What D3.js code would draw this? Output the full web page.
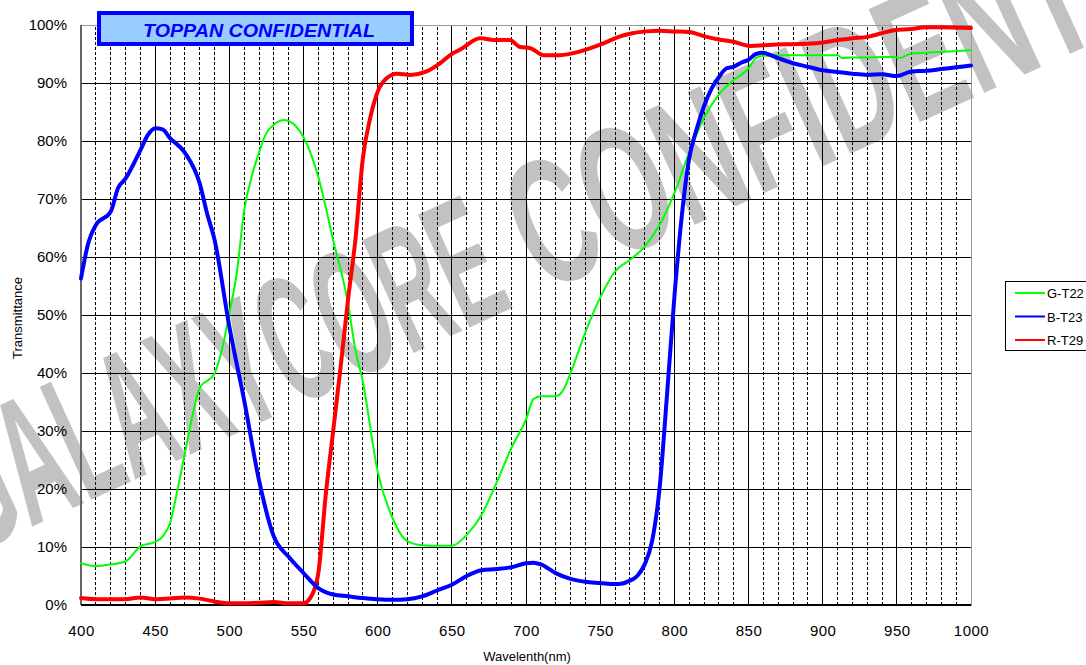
<!DOCTYPE html>
<html>
<head>
<meta charset="utf-8">
<script src="https://cdn.jsdelivr.net/npm/d3@7/dist/d3.min.js"></script>
<style>
  html, body { margin: 0; padding: 0; background: #fff; }
  svg { display: block; }
  text { font-family: "Liberation Sans", Arial, sans-serif; }
</style>
</head>
<body>
<svg id="chart" width="1086" height="665"></svg>
<script>
// ---------- DATA ----------
const xTicks = [400, 450, 500, 550, 600, 650, 700, 750, 800, 850, 900, 950, 1000];
const yTicks = [0, 10, 20, 30, 40, 50, 60, 70, 80, 90, 100];
const seriesNames = ["G-T22", "B-T23", "R-T29"];
const seriesColors = ["#00ff00", "#0000ff", "#ff0000"];

const greenWl = [400,410,420,430,440,450,455,460,465,470,475,480,490,495,500,505,510,515,520,525,530,537,545,550,560,570,580,585,590,600,610,620,630,640,650,660,670,680,690,700,705,710,720,725,730,740,750,760,770,780,790,800,810,820,830,840,850,855,860,870,880,890,900,910,913,920,930,940,948,952,960,970,980,990,1000];
const greenT  = [7.2,6.7,7.0,7.5,10.1,10.9,11.8,14.1,19.8,26.1,32.5,37.4,39.9,44,50.3,57.2,68,73.8,78,81.4,82.8,83.6,82.5,80.7,73.8,62.9,52,44,38.5,23,15,11,10.3,10.2,10.2,12.1,15.5,21,27,32,35.5,36,36,37,40,47,53,57.5,59.5,61.8,65.5,71,78,84,88,90.5,92.5,94.3,94.7,94.8,94.8,94.8,94.8,94.8,94.3,94.4,94.4,94.5,94.5,94.3,95.1,95.2,95.4,95.5,95.7];

const blueWl = [400,405,410,420,425,430,440,445,450,455,460,470,480,485,490,500,510,520,530,540,550,560,570,580,590,600,610,620,630,640,650,660,670,680,690,700,705,710,720,730,740,750,760,765,770,775,780,785,790,795,800,805,810,815,820,825,830,835,840,845,850,855,860,865,870,880,890,900,910,920,930,940,950,960,970,980,990,1000];
const blueT  = [56.3,62.5,65.5,67.8,71.9,73.5,78.4,81,82.2,82,80.5,78,72.7,67.5,63,48,35.3,21.5,11.8,8.3,5.5,2.9,1.8,1.5,1.2,1.0,0.9,1.0,1.5,2.5,3.5,5,6,6.2,6.5,7.2,7.3,7,5.5,4.5,4,3.8,3.6,3.7,4.2,5,7,11,20,36,53,67,77,82,86,89,91,92.5,92.8,93.5,94,95,95.2,94.8,94.3,93.4,92.8,92.2,91.9,91.6,91.4,91.5,91.2,92,92.1,92.4,92.7,93];

const redWl = [400,410,420,430,440,450,460,470,480,490,500,510,520,530,540,550,555,560,565,570,575,580,585,590,595,600,606,613,622,633,642,650,656,669,680,689,696,703,712,723,736,750,763,770,781,790,800,810,821,830,840,851,866,880,892,900,910,920,931,940,948,960,969,980,1000];
const redT  = [1.2,1.0,1.0,1.0,1.3,1.0,1.1,1.3,1.1,0.6,0.3,0.3,0.4,0.5,0.3,0.3,1.4,5.5,19,30,41,52.6,63,77,84,88.5,90.8,91.6,91.4,92,93.4,95,95.8,97.7,97.4,97.4,96.2,96,94.8,94.8,95.4,96.6,98,98.5,98.9,99,98.9,98.8,98,97.5,97.1,96.4,96.6,96.7,96.8,97,97.4,97.7,98,98.6,99.1,99.3,99.6,99.6,99.5];

const titleText = "TOPPAN CONFIDENTIAL";
const watermarkWords = ["GALAXYCORE", "CONFIDENTIAL"];
const xLabel = "Wavelenth(nm)";
const yLabel = "Transmittance";

// ---------- CHART ----------
const svg = d3.select("#chart");
const x = d3.scaleLinear().domain([400, 1000]).range([81, 971]);
const y = d3.scaleLinear().domain([0, 100]).range([605, 25]);

// watermark (behind everything)
const wm = svg.append("g").attr("transform", "translate(-30,555) rotate(-24.5)");
[[0, 600], [630, 790]].forEach((p, i) => {
  wm.append("text")
    .attr("x", p[0]).attr("y", 0)
    .attr("textLength", p[1])
    .attr("lengthAdjust", "spacingAndGlyphs")
    .style("font-family", "'Liberation Sans Narrow','Liberation Sans',Arial,sans-serif")
    .style("font-weight", "bold")
    .style("font-size", "180px")
    .attr("fill", "#c2c2c2")
    .text(watermarkWords[i]);
});

// grid
const g = svg.append("g");
d3.range(410, 1000, 10).forEach(v => {
  g.append("line")
    .attr("x1", x(v)).attr("x2", x(v))
    .attr("y1", y(0)).attr("y2", y(100))
    .attr("stroke", "#000")
    .attr("stroke-width", 1)
    .attr("stroke-dasharray", v % 50 === 0 ? null : "3,2")
    .attr("shape-rendering", "crispEdges");
});
yTicks.filter(v => v > 0 && v < 100).forEach(v => {
  g.append("line")
    .attr("x1", x(400)).attr("x2", x(1000))
    .attr("y1", y(v)).attr("y2", y(v))
    .attr("stroke", "#000")
    .attr("stroke-width", 1)
    .attr("shape-rendering", "crispEdges");
});
// frame
g.append("rect")
  .attr("x", x(400)).attr("y", y(100))
  .attr("width", x(1000) - x(400)).attr("height", y(0) - y(100))
  .attr("fill", "none").attr("stroke", "#999").attr("stroke-width", 1)
  .attr("shape-rendering", "crispEdges");
g.append("line")
  .attr("x1", x(400)).attr("x2", x(400)).attr("y1", y(100)).attr("y2", y(0))
  .attr("stroke", "#666").attr("stroke-width", 2).attr("shape-rendering", "crispEdges");
g.append("line")
  .attr("x1", x(400)).attr("x2", x(1000)).attr("y1", y(0)).attr("y2", y(0))
  .attr("stroke", "#000").attr("stroke-width", 2).attr("shape-rendering", "crispEdges");

// axes (labels via d3 axes)
const xAxis = svg.append("g")
  .attr("transform", `translate(0,${y(0) + 20})`)
  .call(d3.axisBottom(x).tickValues(xTicks).tickFormat(d3.format("d")).tickSize(0).tickPadding(0));
xAxis.select(".domain").remove();
xAxis.selectAll("text")
  .style("font-size", "15px").style("font-family", "'Liberation Sans',Arial,sans-serif")
  .attr("fill", "#000").attr("letter-spacing", "0.5px");

const yAxis = svg.append("g")
  .attr("transform", `translate(${x(400) - 14},0)`)
  .call(d3.axisLeft(y).tickValues(yTicks).tickFormat(d => d + "%").tickSize(0).tickPadding(0));
yAxis.select(".domain").remove();
yAxis.selectAll("text")
  .style("font-size", "15px").style("font-family", "'Liberation Sans',Arial,sans-serif")
  .attr("fill", "#000");

svg.append("text")
  .attr("x", 527).attr("y", 661).attr("text-anchor", "middle")
  .style("font-size", "13px").text(xLabel);
svg.append("text")
  .attr("transform", "translate(22,318) rotate(-90)")
  .attr("text-anchor", "middle")
  .style("font-size", "13px").text(yLabel);

// curves
const line = d3.line().x(d => x(d[0])).y(d => y(d[1])).curve(d3.curveMonotoneX);
const series = [
  { wl: greenWl, t: greenT, color: seriesColors[0], w: 2 },
  { wl: redWl, t: redT, color: seriesColors[2], w: 4 },
  { wl: blueWl, t: blueT, color: seriesColors[1], w: 4 }
];
series.forEach(s => {
  svg.append("path")
    .datum(s.wl.map((v, i) => [v, s.t[i]]))
    .attr("d", line)
    .attr("fill", "none")
    .attr("stroke", s.color)
    .attr("stroke-width", s.w)
    .attr("stroke-linejoin", "round")
    .attr("stroke-linecap", "round");
});

// title box
svg.append("rect")
  .attr("x", 99).attr("y", 13).attr("width", 313).attr("height", 31)
  .attr("fill", "#99ccff").attr("stroke", "#0000ff").attr("stroke-width", 4);
svg.append("text")
  .attr("x", 259).attr("y", 37).attr("text-anchor", "middle")
  .style("font-size", "18px").style("font-weight", "bold").style("font-style", "italic")
  .attr("fill", "#0000ff")
  .attr("textLength", 232).attr("lengthAdjust", "spacingAndGlyphs")
  .text(titleText);

// legend
const lg = svg.append("g");
lg.append("rect").attr("x", 1005.5).attr("y", 281.5).attr("width", 100).attr("height", 69)
  .attr("fill", "#fff").attr("stroke", "#000").attr("stroke-width", 1);
[0, 1, 2].forEach((k, i) => {
  const yy = 293 + i * 23.5;
  lg.append("line").attr("x1", 1015).attr("x2", 1045).attr("y1", yy).attr("y2", yy)
    .attr("stroke", seriesColors[k]).attr("stroke-width", 2);
  lg.append("text").attr("x", 1047).attr("y", yy + 5)
    .style("font-size", "13px").text(seriesNames[k]);
});
</script>
</body>
</html>
